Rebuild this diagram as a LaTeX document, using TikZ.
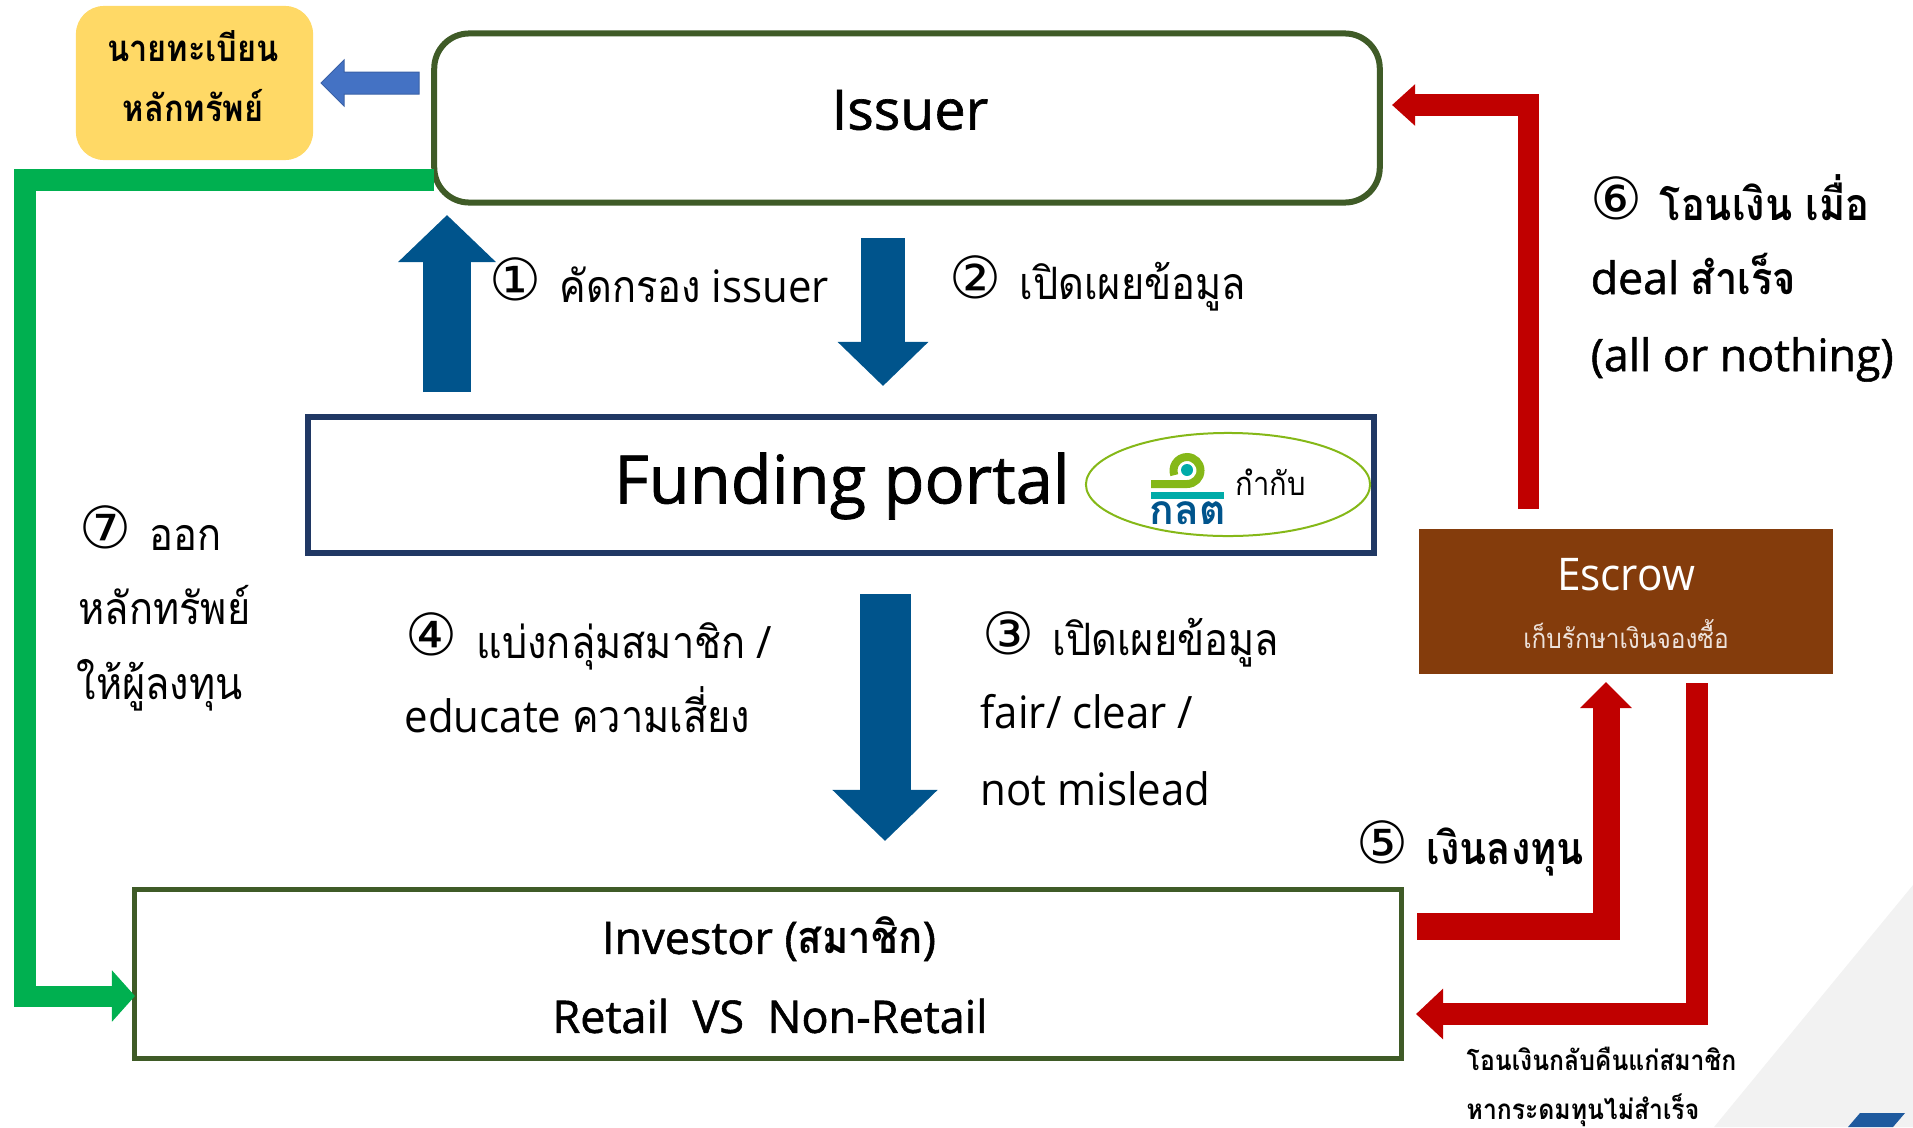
\documentclass[tikz,border=0pt]{standalone}
\usepackage{fontspec}
\setmainfont[FakeStretch=.94]{Open Sans}
\newfontfamily\thfont[Script=Thai,FakeStretch=.89]{Loma}
\newfontfamily\midfont[FakeBold=1.2]{Open Sans}
\newfontfamily\numfont{DejaVu Sans}
\usetikzlibrary{arrows.meta,shapes.geometric}
\definecolor{boxgreen}{HTML}{3F5B27}
\definecolor{boxnavy}{HTML}{203864}
\definecolor{flowblue}{HTML}{00548C}
\definecolor{flowred}{HTML}{C00000}
\definecolor{flowgreen}{HTML}{00B050}
\definecolor{escrowbrown}{HTML}{843C0C}
\definecolor{regyellow}{HTML}{FFD966}
\definecolor{sideblue}{HTML}{4472C4}
\definecolor{secgreen}{HTML}{85B818}
\definecolor{secteal}{HTML}{00ABA8}
\definecolor{cornerblue}{HTML}{1F5A9E}
\newcommand{\fsz}[1]{\fontsize{#1}{#1}\selectfont}
\newcommand{\thn}[1]{{\thfont #1}}
\newcommand{\thb}[1]{{\thfont\bfseries #1}}
\tikzset{
lbl/.style={anchor=base west,inner sep=0pt,font=\fsz{12.7}},
boldlbl/.style={lbl,font=\fsz{12.7}\midfont},
circnum/.style={anchor=center,inner sep=0pt,font=\numfont\fsz{16.5}},
upblock/.style={flowblue,line width=.48cm,-{Triangle[length=.47cm,width=.95cm]}},
redblock/.style={flowred,line width=.24cm,-{Triangle[length=.27cm,width=.49cm]}}
}
\begin{document}
\begin{tikzpicture}[x=.01cm,y=-.01cm]
\useasboundingbox (0,0) rectangle (1913,1127);
% corner shading
\fill[gray!10] (1913,885) -- (1714,1127) -- (1913,1127) -- cycle;
\fill[cornerblue] (1860,1113) -- (1905,1113) -- (1893,1127) -- (1848,1127) -- cycle;
% boxes
\node[draw=boxgreen,line width=.06cm,rounded corners=.35cm,minimum width=9.45cm,minimum height=1.69cm] (issuer) at (907,118) {};
\node[fill=regyellow,rounded corners=.28cm,minimum width=2.37cm,minimum height=1.54cm] (registrar) at (194.5,83) {};
\node[draw=boxnavy,line width=.06cm,minimum width=10.66cm,minimum height=1.36cm] (portal) at (841,485) {};
\node[draw=boxgreen,line width=.055cm,minimum width=12.66cm,minimum height=1.69cm] (investor) at (768,974) {};
\node[fill=escrowbrown,minimum width=4.14cm,minimum height=1.45cm] (escrow) at (1626,601.5) {};
\node[draw=secgreen,line width=.02cm,ellipse,minimum width=2.84cm,minimum height=1.03cm,inner sep=0pt] (seal) at (1228,484.5) {};
% logo
\draw[secgreen,line width=.08cm] (1151,484) -- (1187,484) arc (90:-200:13.5);
\fill[secteal] (1187,470) circle (6);
\fill[secteal] (1151,492) rectangle (1224,499);
\node[inner sep=0pt,text=flowblue,font=\fsz{11.6}] (logotext) at (1187.5,513) {{\fontspec[Script=Thai]{Loma}\bfseries กลต}};
% flows
\coordinate (up0) at (447,392);
\coordinate (up1) at (447,215);
\coordinate (dis0) at (883,238);
\coordinate (dis1) at (883,386);
\coordinate (edu0) at (885,594);
\coordinate (edu1) at (885,841);
\draw[upblock] (up0) -- (up1);
\draw[upblock,line width=.44cm,-{Triangle[length=.44cm,width=.88cm]}] (dis0) -- (dis1);
\draw[upblock,line width=.51cm,-{Triangle[length=.51cm,width=1.02cm]}] (edu0) -- (edu1);
\coordinate (reg0) at (419,83);
\coordinate (reg1) at (321,83);
\draw[sideblue!85!black,line width=.01cm,fill=sideblue] (reg1) -- (344,60) -- (344,72) -- (reg0 |- 0,72) -- (reg0 |- 0,94) -- (344,94) -- (344,106) -- cycle;
\coordinate (grn0) at (434,180);
\coordinate (grn1) at (25,180);
\coordinate (grn2) at (25,996);
\coordinate (grn3) at (135,996);
\draw[flowgreen,line width=.21cm,-{Triangle[length=.23cm,width=.50cm]}] (grn0) -- (grn1) -- (grn2) -- (grn3);
\coordinate (rel0) at (1528,509);
\coordinate (rel1) at (1528,105);
\coordinate (rel2) at (1392,105);
\draw[redblock,line width=.21cm,-{Triangle[length=.23cm,width=.40cm]}] (rel0) -- (rel1) -- (rel2);
\coordinate (pay0) at (1417,926);
\coordinate (pay1) at (1606,926);
\coordinate (pay2) at (1606,682);
\draw[flowred,line width=.27cm,-{Triangle[length=.26cm,width=.50cm]}] (pay0) -- (pay1) -- (pay2);
\coordinate (ref0) at (1697,683);
\coordinate (ref1) at (1697,1014);
\coordinate (ref2) at (1416,1014);
\draw[redblock,line width=.22cm,-{Triangle[length=.27cm,width=.49cm]}] (ref0) -- (ref1) -- (ref2);
% titles
\node[inner sep=0pt,font=\fsz{15.8}\midfont] (issuertxt) at (910,110) {Issuer};
\node[inner sep=0pt,font=\fsz{19}\midfont] (portaltxt) at (842,486) {Funding portal};
\node[inner sep=0pt,font=\fsz{9.3}] (sealtxt) at (1271,482) {\thn{กำกับ}};
\node[inner sep=0pt,font=\fsz{12.8}\midfont] (inv1) at (769,939) {Investor (\thb{สมาชิก})};
\node[inner sep=0pt,font=\fsz{12.8}\midfont] (inv2) at (770,1016) {Retail\ \ VS\ \ Non-Retail};
\node[inner sep=0pt,text=white,font=\fsz{12.8}] (esc1) at (1626,575) {Escrow};
\node[inner sep=0pt,text=white!85!escrowbrown,font=\fsz{7.8}] (esc2) at (1626,634) {\thn{เก็บรักษาเงินจองซื้อ}};
\node[inner sep=0pt,font=\fsz{10.4}] (reg1txt) at (193,46) {\thb{นายทะเบียน}};
\node[inner sep=0pt,font=\fsz{10.4}] (reg2txt) at (193,106) {\thb{หลักทรัพย์}};
% step numbers
\node[circnum] (n1) at (516,279) {①};
\node[circnum] (n2) at (975,277) {②};
\node[circnum] (n3) at (1008,633) {③};
\node[circnum] (n4) at (432,634) {④};
\node[circnum] (n5) at (1382,842) {⑤};
\node[circnum] (n6) at (1616,198) {⑥};
\node[circnum] (n7) at (106,527) {⑦};
% step texts
\node[lbl] (t1) at (559,302) {\thn{คัดกรอง} issuer};
\node[lbl] (t2) at (1019,299) {\thn{เปิดเผยข้อมูล}};
\node[lbl] (t3a) at (1052,655) {\thn{เปิดเผยข้อมูล}};
\node[lbl] (t3b) at (980,728) {fair/ clear /};
\node[lbl] (t3c) at (980,805) {not mislead};
\node[lbl] (t4a) at (476,658) {\thn{แบ่งกลุ่มสมาชิก} /};
\node[lbl] (t4b) at (404,732) {educate \thn{ความเสี่ยง}};
\node[boldlbl] (t5) at (1426,864) {\thb{เงินลงทุน}};
\node[boldlbl] (t6a) at (1659,220) {\thb{โอนเงิน เมื่อ}};
\node[boldlbl] (t6b) at (1590,294) {deal \thb{สำเร็จ}};
\node[boldlbl] (t6c) at (1590,371) {(all or nothing)};
\node[lbl] (t7a) at (149,550) {\thn{ออก}};
\node[lbl] (t7b) at (78,624) {\thn{หลักทรัพย์}};
\node[lbl] (t7c) at (76,699) {\thn{ให้ผู้ลงทุน}};
\node[lbl,font=\fsz{7.9}] (t8a) at (1466,1070) {\thb{โอนเงินกลับคืนแก่สมาชิก}};
\node[lbl,font=\fsz{7.9}] (t8b) at (1466,1119) {\thb{หากระดมทุนไม่สำเร็จ}};
\end{tikzpicture}
\end{document}
